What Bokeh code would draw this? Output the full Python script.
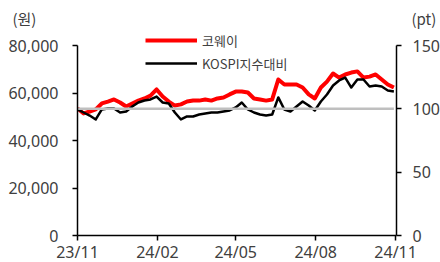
import pandas as pd
from bokeh.plotting import figure
from bokeh.models import (Range1d, LinearAxis, FixedTicker, NumeralTickFormatter,
                          Legend, LegendItem, Title)
from bokeh.embed import file_html
from bokeh.resources import INLINE

# ---- data (weekly) ----
start_date = "2023-11-01"
n_weeks = 53
coway_price = [53500, 51400, 52200, 53100, 55600, 56400, 57300, 56000, 54300, 55600,
               56800, 57700, 58900, 61500, 58500, 56400, 54700, 55200, 56400, 56800,
               56800, 57300, 56800, 57700, 58100, 59400, 60600, 60600, 60200, 57700,
               57300, 56800, 57300, 65700, 63600, 63600, 63600, 62300, 59400, 57700,
               62300, 64800, 68200, 66500, 67800, 68600, 69100, 66500, 66900, 67800,
               65700, 63600, 62300]
kospi_rel = [99.5, 97.1, 94.7, 91.6, 99.5, 100.3, 100.3, 97.1, 97.9, 101.8,
             105.0, 106.6, 107.4, 109.7, 105.0, 104.2, 97.1, 91.6, 94.0, 94.0,
             95.5, 96.3, 97.1, 97.1, 97.9, 98.7, 101.1, 105.0, 99.5, 97.1,
             95.5, 94.7, 95.5, 109.0, 99.5, 97.9, 101.8, 105.8, 102.6, 98.7,
             105.8, 111.3, 118.4, 122.4, 124.7, 116.8, 123.2, 123.2, 117.6, 118.4,
             117.6, 114.5, 113.7]
base_level = 100
x_tick_dates = ["2023-11-01", "2024-02-01", "2024-05-01", "2024-08-01", "2024-11-01"]
x_tick_labels = ["23/11", "24/02", "24/05", "24/08", "24/11"]
left_ticks = [0, 20000, 40000, 60000, 80000]
right_ticks = [0, 50, 100, 150]
series_names = ["코웨이", "KOSPI지수대비"]
unit_names = ["(원)", "(pt)"]

dates = pd.date_range(start_date, periods=n_weeks, freq="7D")

FONT = "Noto Sans CJK KR"
NUM_FONT = "Noto Sans"
TXT = "#404040"

left_max, right_max = 80000, 150
# frame extends a bit above the top tick so the legend is not clipped
head_room = 207 / 190

p = figure(frame_width=319, frame_height=207, output_backend="svg", toolbar_location=None,
           x_range=Range1d(pd.Timestamp("2023-11-01"), pd.Timestamp("2024-11-02")),
           y_range=Range1d(0, left_max * head_room),
           min_border_left=77, min_border_right=44, min_border_top=28, min_border_bottom=27,
           background_fill_color="white", border_fill_color="white")
p.outline_line_color = None
p.grid.visible = False
p.extra_y_ranges = {"pt": Range1d(0, right_max * head_room)}

r_red = p.line(dates, coway_price, line_color="#FF0000", line_width=4, line_join="round")
r_blk = p.line(dates, kospi_rel, line_color="black", line_width=2.5, y_range_name="pt",
               line_join="round")
p.line(dates, [base_level] * len(dates), line_color="#BFBFBF", line_width=2.5,
       y_range_name="pt")

# x axis
xa = p.xaxis[0]
tick_ms = [pd.Timestamp(d).value / 1e6 for d in x_tick_dates]
xa.ticker = FixedTicker(ticks=tick_ms)
xa.major_label_overrides = {t: l for t, l in zip(tick_ms, x_tick_labels)}
xa.major_label_standoff = 0

# left axis
ya = p.yaxis[0]
ya.ticker = FixedTicker(ticks=left_ticks)
ya.formatter = NumeralTickFormatter(format="0,0")
ya.bounds = (0, left_max)
ya.major_label_standoff = 14

# right axis
ra = LinearAxis(y_range_name="pt", ticker=FixedTicker(ticks=right_ticks))
ra.bounds = (0, right_max)
ra.major_label_standoff = 11
p.add_layout(ra, "right")

for ax in [xa, ya, ra]:
    ax.axis_line_color = "black"
    ax.axis_line_width = 1.5
    ax.major_tick_line_color = "black"
    ax.major_tick_line_width = 1.5
    ax.minor_tick_line_color = None
    ax.major_tick_out = 5
    ax.major_tick_in = 0
    ax.major_label_text_font = NUM_FONT
    ax.major_label_text_font_size = "16px"
    ax.major_label_text_color = TXT

legend = Legend(items=[LegendItem(label=series_names[0], renderers=[r_red]),
                       LegendItem(label=series_names[1], renderers=[r_blk])],
                location=(68, 162), orientation="vertical",
                glyph_width=52, glyph_height=20, label_height=20, spacing=3,
                padding=0, margin=0, label_standoff=5,
                label_text_font=FONT, label_text_font_size="13px", label_text_color=TXT,
                background_fill_alpha=0, border_line_color=None)
p.add_layout(legend, "center")

# unit captions: left unit over the left axis, right unit over the right axis
unit_gap = "\u2003" * 25
p.add_layout(Title(text=unit_names[0] + unit_gap + unit_names[1], align="left", offset=-65,
                   standoff=0, text_font=FONT, text_font_size="15px", text_color=TXT,
                   text_font_style="normal"), "above")

open("out.html", "w").write(file_html(p, INLINE))
